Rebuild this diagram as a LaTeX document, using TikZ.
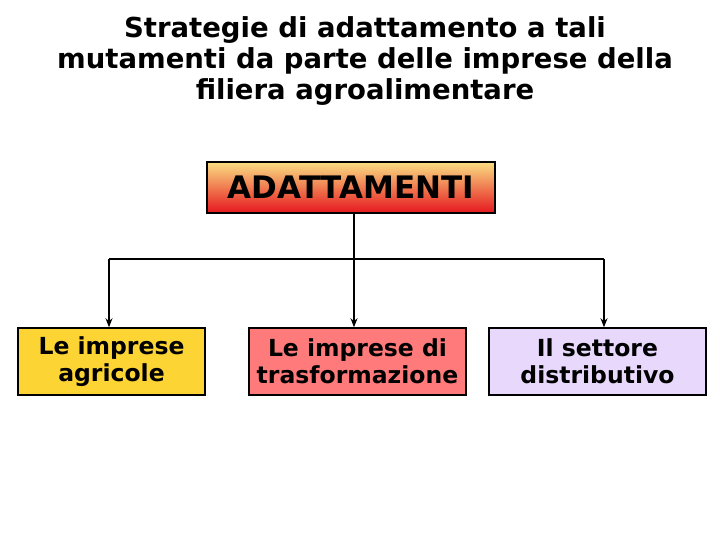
\documentclass[tikz,border=0pt]{standalone}
\usepackage{fontspec}
\setmainfont{DejaVu Sans}
\usetikzlibrary{arrows.meta, positioning}

\definecolor{agriyellow}{RGB}{252,212,52}
\definecolor{trasfred}{RGB}{255,122,122}
\definecolor{distlilac}{RGB}{232,216,252}
\definecolor{shadetop}{RGB}{250,222,130}
\definecolor{shadebot}{RGB}{230,22,30}

\tikzset{
    sector/.style={draw, line width=1.5pt, minimum height=67pt, align=center,
        font=\fontsize{23.5}{27}\selectfont\bfseries, inner sep=0pt},
    link/.style={line width=1.3pt},
    linkarrow/.style={line width=1.3pt, -{Stealth[length=9pt,width=7pt]}}
}

\begin{document}
\begin{tikzpicture}[x=1pt,y=-1pt]
    \useasboundingbox (0,0) rectangle (720,540);

    % Title
    \node[align=center, font=\fontsize{27.5}{31}\selectfont\bfseries] (title) at (365,61)
        {Strategie di adattamento a tali\\mutamenti da parte delle imprese della\\filiera agroalimentare};

    % Top box
    \node[draw, line width=1.5pt, minimum width=288pt, minimum height=51pt,
          top color=shadetop, bottom color=shadebot,
          font=\fontsize{31}{34}\selectfont\bfseries] (adatt) at (351,187.5) {ADATTAMENTI};

    % Sector boxes
    \node[sector, fill=agriyellow, minimum width=187pt] (agri) at (111.5,361.5) {Le imprese\\agricole};
    \node[sector, fill=trasfred, minimum width=217pt] (trasf) at (357.5,361.5) {Le imprese di\\trasformazione};
    \node[sector, fill=distlilac, minimum width=217pt] (dist) at (597.5,361.5) {Il settore\\distributivo};

    % Connectors
    \coordinate (busL) at (109,259);
    \coordinate (busM) at (354,259);
    \coordinate (busR) at (604,259);
    \draw[link] (adatt.south -| busM) -- (busM);
    \draw[link] (busL) -- (busR);
    \draw[linkarrow] (busL) -- (busL |- agri.north);
    \draw[linkarrow] (busM) -- (busM |- trasf.north);
    \draw[linkarrow] (busR) -- (busR |- dist.north);
\end{tikzpicture}
\end{document}
